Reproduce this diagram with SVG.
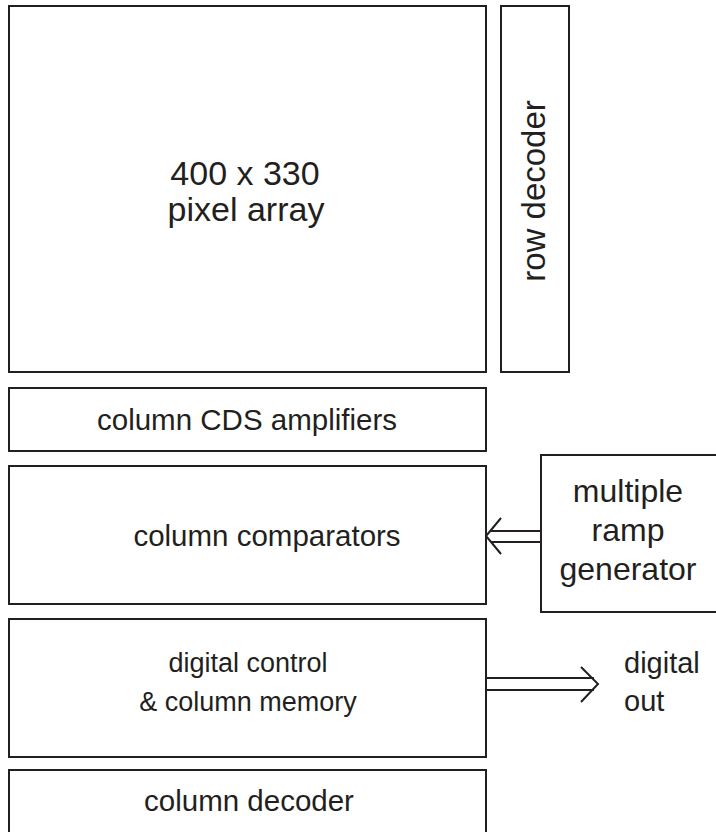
<svg xmlns="http://www.w3.org/2000/svg" width="716" height="832" viewBox="0 0 716 832">
<style>
.box{fill:#fff;stroke:#231f20;stroke-width:2}
.t{font-family:"Liberation Sans",Arial,sans-serif;font-size:29.5px;fill:#231f20;text-anchor:middle}
.l{fill:none;stroke:#231f20;stroke-width:2}
</style>
<rect width="716" height="832" fill="#fff"/>
<g id="pixel-array"><rect class="box" x="9" y="6" width="477" height="366"/><text class="t" x="245" y="185" style="font-size:34px">400 x 330</text><text class="t" x="246" y="221" style="font-size:34px">pixel array</text></g>
<g id="row-decoder"><rect class="box" x="501" y="6" width="68" height="366"/><text class="t" transform="translate(545,191) rotate(-90)" style="font-size:33px">row decoder</text></g>
<g id="cds"><rect class="box" x="9" y="388" width="477" height="63"/><text class="t" x="247" y="430">column CDS amplifiers</text></g>
<g id="comparators"><rect class="box" x="9" y="466" width="477" height="138"/><text class="t" x="267" y="546">column comparators</text></g>
<g id="ramp"><rect class="box" x="541" y="455" width="190" height="157"/><text class="t" x="628" y="502" style="font-size:32px">multiple</text><text class="t" x="628" y="541" style="font-size:32px">ramp</text><text class="t" x="628" y="580" style="font-size:32px">generator</text></g>
<g id="digital"><rect class="box" x="9" y="619" width="477" height="138"/><text class="t" x="248" y="672" style="font-size:27px">digital control</text><text class="t" x="248" y="711" style="font-size:27px">&amp; column memory</text></g>
<g id="col-decoder"><rect class="box" x="9" y="770" width="477" height="80"/><text class="t" x="249" y="811">column decoder</text></g>
<g id="digital-out"><text class="t" style="text-anchor:start;font-size:29px" x="624" y="673">digital</text><text class="t" style="text-anchor:start;font-size:29px" x="624" y="711">out</text></g>
<g id="connectors">
<path class="l" d="M541 531H491M541 542H491M501 518L486 536L501 554"/>
<path class="l" d="M486 678H594M486 690H594M581 667L598 684L581 702"/>
</g>
</svg>
